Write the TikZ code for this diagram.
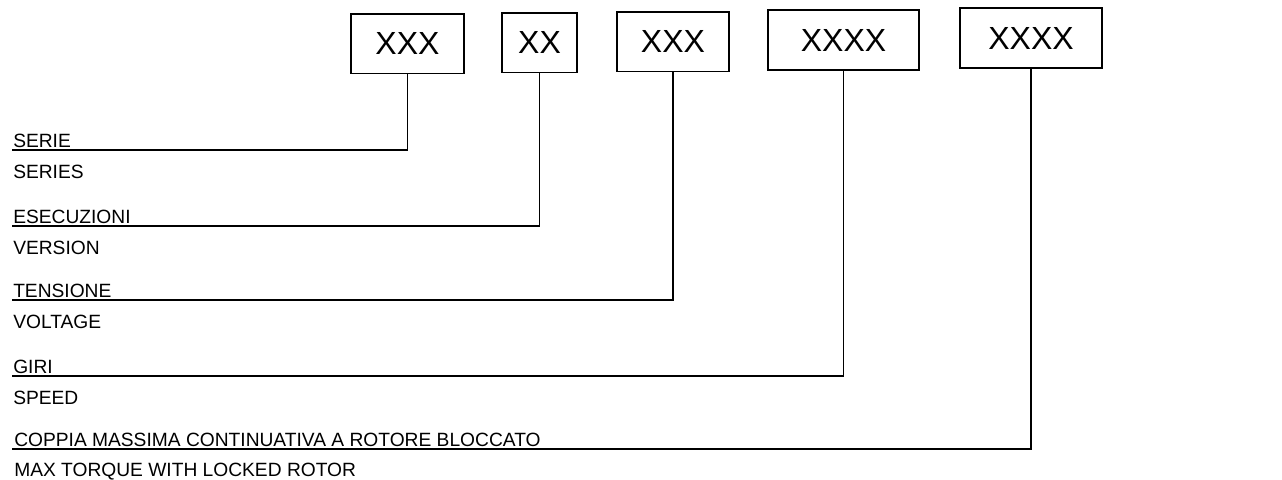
\documentclass[tikz,border=0pt]{standalone}
\usepackage{fontspec}
\setmainfont{Liberation Sans}
\begin{document}
\begin{tikzpicture}[x=0.75pt,y=-0.75pt,
  box/.style={draw, line width=1pt, inner sep=0pt, minimum height=44.5pt, font=\fontsize{24}{24}\selectfont},
  lbl/.style={anchor=base west, inner sep=0pt, font=\fontsize{14.4}{14.4}\selectfont},
  conn/.style={line width=1pt}]
\useasboundingbox (0,0) rectangle (1282,479);
% boxes
\node[box, minimum width=84.75pt] (b1) at (407.5,43.5) {XXX};
\node[box, minimum width=56.25pt] (b2) at (539.5,42.5) {XX};
\node[box, minimum width=84pt] (b3) at (673,41.5) {XXX};
\node[box, minimum width=113.25pt, minimum height=45pt] (b4) at (843.5,40) {XXXX};
\node[box, minimum width=106.5pt, minimum height=45pt] (b5) at (1031,38) {XXXX};
% line ends
\coordinate (l1) at (12,150);
\coordinate (l2) at (12,226);
\coordinate (l3) at (12,300);
\coordinate (l4) at (12,376);
\coordinate (l5) at (12,449);
% connectors
\draw[conn] (b1.south) |- (l1);
\draw[conn] (b2.south) |- (l2);
\draw[conn] (b3.south) |- (l3);
\draw[conn] (b4.south) |- (l4);
\draw[conn] (b5.south) |- (l5);
% labels
\node[lbl] (it1) at (13,147) {SERIE};
\node[lbl] (en1) at (13,178) {SERIES};
\node[lbl] (it2) at (13,223) {ESECUZIONI};
\node[lbl] (en2) at (13,254) {VERSION};
\node[lbl] (it3) at (13,297) {TENSIONE};
\node[lbl] (en3) at (13,328) {VOLTAGE};
\node[lbl] (it4) at (13,373) {GIRI};
\node[lbl] (en4) at (13,404) {SPEED};
\node[lbl] (it5) at (14,446) {COPPIA MASSIMA CONTINUATIVA A ROTORE BLOCCATO};
\node[lbl] (en5) at (14,476) {MAX TORQUE WITH LOCKED ROTOR};
\end{tikzpicture}
\end{document}
